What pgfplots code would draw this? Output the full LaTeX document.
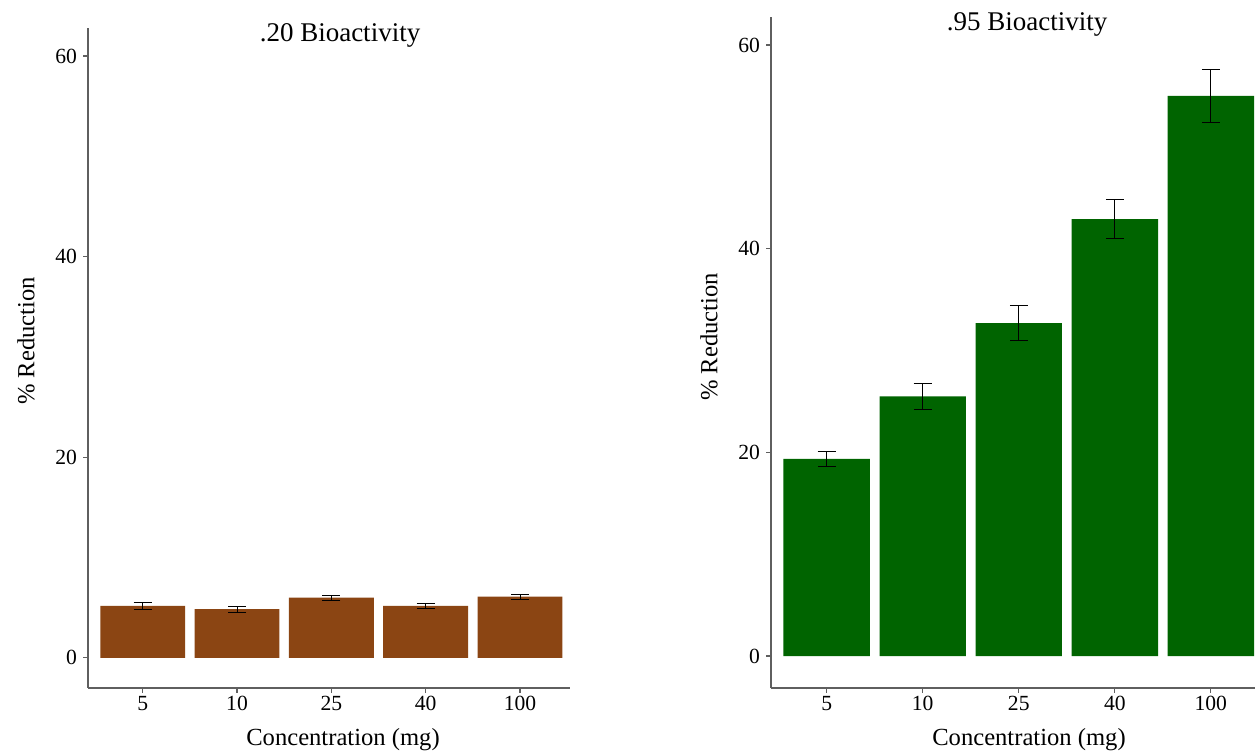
\documentclass[border=0pt]{standalone}
\usepackage{pgfplots}
\pgfplotsset{compat=1.18}
\usepackage{fontspec}
\setmainfont{Liberation Serif}
\definecolor{barbrown}{RGB}{139,69,19}
\definecolor{bargreen}{RGB}{0,100,0}
\definecolor{axisgray}{RGB}{95,95,95}
% shared look of both panels (1px of the reference = 0.5pt)
\pgfplotsset{panel/.style={
    scale only axis,
    ybar, bar width=0.9,
    axis x line=bottom, axis y line=left,
    axis line style={-, axisgray, line width=0.6pt},
    ytick={0,20,40,60},
    xtick={1,2,3,4,5}, xticklabels={5,10,25,40,100},
    tick align=outside, major tick length=2.5pt,
    tick style={axisgray, line width=0.6pt},
    ticklabel style={font=\fontsize{10.8}{12}\selectfont},
    /pgf/number format/assume math mode=true,
    yticklabel style={xshift=0.5pt},
    xticklabel style={yshift=2pt},
    error bars/y dir=both, error bars/y explicit,
    error bars/error bar style={black, line width=0.5pt},
    error bars/error mark options={rotate=90, black, mark size=4.5pt, line width=0.5pt},
}}

\begin{document}
\begin{tikzpicture}
\path[use as bounding box] (0,0) rectangle (627.5pt,376.5pt);
\clip (0,0) rectangle (627.5pt,376.5pt);

\begin{axis}[panel, at={(44pt,32.5pt)}, anchor=south west,
    width=241pt, height=330pt,
    xmin=0.42, xmax=5.53, ymin=-3.0, ymax=62.8]
\addplot[fill=barbrown, draw=none] coordinates {
    (1,5.18) +- (0,0.33)
    (2,4.86) +- (0,0.30)
    (3,6.02) +- (0,0.25)
    (4,5.18) +- (0,0.28)
    (5,6.12) +- (0,0.25)
};
\end{axis}

\begin{axis}[panel, at={(385.5pt,32.5pt)}, anchor=south west,
    width=242pt, height=335.5pt,
    xmin=0.42, xmax=5.46, ymin=-3.14, ymax=62.75]
\addplot[fill=bargreen, draw=none] coordinates {
    (1,19.35) +- (0,0.75)
    (2,25.5) +- (0,1.3)
    (3,32.7) +- (0,1.7)
    (4,42.9) +- (0,1.9)
    (5,55.0) +- (0,2.6)
};
\end{axis}

% titles and axis labels
\node[font=\fontsize{13.5}{15}\selectfont] at (170pt,359pt) {.20 Bioactivity};
\node[font=\fontsize{13.5}{15}\selectfont] at (513.5pt,364.5pt) {.95 Bioactivity};
\node[font=\fontsize{12.3}{14}\selectfont, rotate=90] at (13pt,206pt) {\% Reduction};
\node[font=\fontsize{12.3}{14}\selectfont, rotate=90] at (354.5pt,208pt) {\% Reduction};
\node[font=\fontsize{12.3}{14}\selectfont] at (171.5pt,6.5pt) {Concentration (mg)};
\node[font=\fontsize{12.3}{14}\selectfont] at (514.5pt,6.5pt) {Concentration (mg)};
\end{tikzpicture}
\end{document}
